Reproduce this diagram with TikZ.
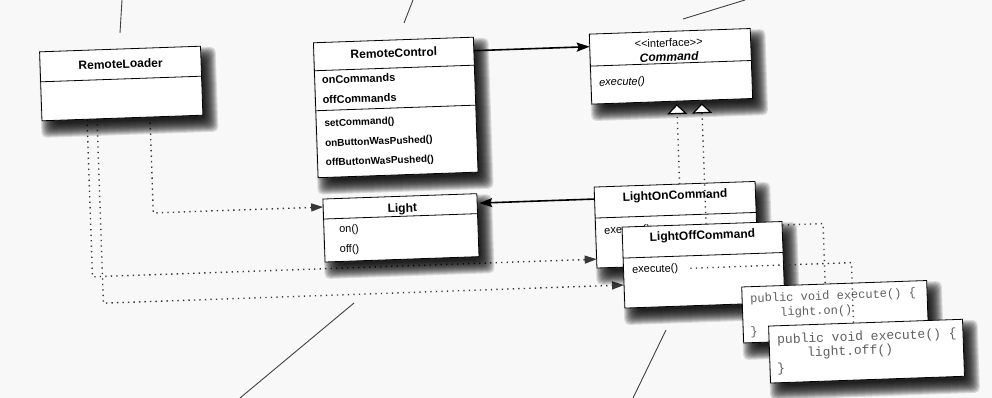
\documentclass[tikz,border=0pt]{standalone}
\usepackage{fontspec}
\setmainfont{Liberation Sans}
\newfontfamily\codefont{Liberation Mono}
\usetikzlibrary{arrows.meta,calc}

\pgfdeclarelayer{paper}
\pgfdeclarelayer{wires}
\pgfsetlayers{paper,wires,main}

\definecolor{paperbg}{RGB}{248,248,248}
\definecolor{dotgray}{RGB}{55,55,55}
\definecolor{codegray}{RGB}{95,95,95}

\tikzset{
  classbox/.style={draw=black, line width=0.8pt, fill=white, inner sep=0pt, outer sep=0pt,
    anchor=north west},
  shadowink/.style={fill=black, opacity=0.12, rounded corners=5pt},
  divider/.style={line width=0.8pt},
  titletext/.style={font=\fontsize{12}{14}\selectfont\bfseries, inner sep=0pt},
  attrtext/.style={font=\fontsize{11}{13}\selectfont\bfseries, inner sep=0pt, anchor=west},
  methtext/.style={font=\fontsize{10}{12}\selectfont\bfseries, inner sep=0pt, anchor=west},
  optext/.style={font=\fontsize{11}{13}\selectfont, inner sep=0pt, anchor=west},
  codetext/.style={font=\codefont\fontsize{12}{14}\selectfont, text=codegray,
    inner sep=0pt, anchor=west},
  bigcodetext/.style={font=\codefont\fontsize{13}{15}\selectfont, text=codegray,
    inner sep=0pt, anchor=west},
  assoc/.style={line width=1.6pt, -{Stealth[length=13pt,width=9pt,inset=2pt]}},
  dotline/.style={draw=dotgray, line width=1.4pt, dash pattern=on 1.3pt off 4.2pt},
  depend/.style={dotline, -{Triangle[length=12pt,width=8pt]}},
  realize/.style={dotline, shorten >=3pt,
    -{Triangle[length=10pt,width=20pt,line width=1.2pt,color=black,fill=white]}},
  leader/.style={draw=black!75, line width=0.9pt},
}

% box with a soft drop shadow: name, left, top, width, height
\newcommand\umlbox[5]{%
  \foreach \e in {8,7,...,-6}{%
    \fill[shadowink] ({#2+7-\e},{#3+9-\e}) rectangle ({#2+#4+7+\e},{#3+#5+9+\e});}
  \node[classbox, minimum width=#4pt, minimum height=#5pt] (#1) at (#2,#3) {};}

\begin{document}
\begin{tikzpicture}[x=1pt,y=-1pt]
\begin{pgfonlayer}{paper}
  \fill[paperbg] (0,0) rectangle (992,398);
\end{pgfonlayer}
\useasboundingbox (0,0) rectangle (992,398);

% pointer strokes
\coordinate (pa1) at (122,0);   \coordinate (pa2) at (120,33);
\coordinate (pb1) at (413,0);   \coordinate (pb2) at (404,23);
\coordinate (pc1) at (745,0);   \coordinate (pc2) at (683,19);
\coordinate (pd1) at (354,303); \coordinate (pd2) at (240,398);
\coordinate (pe1) at (666,330); \coordinate (pe2) at (633,398);
\draw[leader] (pa1) -- (pa2);
\draw[leader] (pb1) -- (pb2);
\draw[leader] (pc1) -- (pc2);
\draw[leader] (pd1) -- (pd2);
\draw[leader] (pe1) -- (pe2);

\begin{scope}[rotate around={2:(496,199)}, transform shape]

  % RemoteLoader
  \umlbox{loader}{45}{36}{161}{69}
  \draw[divider] (45,66) -- (206,66);
  \node[titletext] (loadername) at (125.5,51) {RemoteLoader};

  % RemoteControl
  \umlbox{rc}{319}{36.5}{160}{135}
  \draw[divider] (319,64.5) -- (479,64.5);
  \draw[divider] (319,104.5) -- (479,104.5);
  \node[titletext] (rcname) at (399,49.5) {RemoteControl};
  \node[attrtext] (rcon) at (326,74) {onCommands};
  \node[attrtext] (rcoff) at (326,94) {offCommands};
  \node[methtext] (rcset) at (327,118) {setCommand()};
  \node[methtext] (rconpush) at (327,138) {onButtonWasPushed()};
  \node[methtext] (rcoffpush) at (327,157.5) {offButtonWasPushed()};

  % Command interface
  \umlbox{cmd}{595}{37.5}{161}{70}
  \draw[divider] (595,69.5) -- (756,69.5);
  \node[font=\fontsize{11}{13}\selectfont, inner sep=0pt] (cmdstereo) at (674,49)
    {<\kern0pt<interface>\kern0pt>};
  \node[titletext, font=\fontsize{12}{14}\selectfont\bfseries\itshape] (cmdname) at (674,63) {Command};
  \node[optext, font=\fontsize{11}{13}\selectfont\itshape] (cmdexec) at (603,87) {execute()};

  % Light
  \umlbox{light}{323}{193}{154}{63}
  \draw[divider] (323,213) -- (477,213);
  \node[titletext] (lightname) at (402,206) {Light};
  \node[optext] (lighton) at (338,224.5) {on()};
  \node[optext] (lightoff) at (338,244.5) {off()};

  % LightOnCommand
  \umlbox{lon}{594.5}{190.5}{161}{81}
  \draw[divider] (594.5,221.5) -- (755.5,221.5);
  \node[titletext] (lonname) at (675,202.5) {LightOnCommand};
  \node[optext] (lonexec) at (603,235) {execute()};

  % call trace running behind LightOffCommand
  \coordinate (ce1) at (822,235);
  \coordinate (ce1end) at (822,295.5);
  \begin{pgfonlayer}{wires}
    \draw[dotline] (lonexec.east) -- (ce1) -- (ce1end);
  \end{pgfonlayer}

  % LightOffCommand
  \umlbox{loff}{621}{231.5}{160}{81}
  \draw[divider] (621,262.5) -- (781,262.5);
  \node[titletext] (loffname) at (701,243.5) {LightOffCommand};
  \node[optext] (loffexec) at (629.5,275) {execute()};

  % code notes
  \umlbox{code1}{738.5}{295.5}{185}{56}
  \node[codetext] (code1a) at (746.5,308) {public void execute() \{};
  \node[codetext] (code1b) at (776,323) {light.on()};
  \node[codetext] (code1c) at (745.5,341) {\}};

  \umlbox{code2}{764}{335.5}{194}{57}
  \node[bigcodetext] (code2a) at (772,350) {public void execute() \{};
  \node[bigcodetext] (code2b) at (801.5,364) {light.off()};
  \node[bigcodetext] (code2c) at (771,379) {\}};

  % dependencies from RemoteLoader
  \coordinate (ca) at (153,201);
  \coordinate (cb) at (90,262.7);
  \coordinate (cc) at (100,289.4);
  \begin{pgfonlayer}{wires}
    \draw[depend] ($(loader.south west)!0.671!(loader.south east)$) -- (ca)
      -- ($(light.north west)!0.127!(light.south west)$);
    \draw[depend] ($(loader.south west)!0.28!(loader.south east)$) -- (cb)
      -- ($(lon.north west)!0.891!(lon.south west)$);
    \draw[depend] ($(loader.south west)!0.342!(loader.south east)$) -- (cc)
      -- ($(loff.north west)!0.715!(loff.south west)$);
  \end{pgfonlayer}

  % realizations of Command
  \draw[realize] ($(lon.north west)!0.531!(lon.north east)$)
    -- ($(cmd.south west)!0.528!(cmd.south east)$);
  \draw[realize] ($(loff.north west)!0.525!(loff.north east)$)
    -- ($(cmd.south west)!0.683!(cmd.south east)$);

  % call trace from LightOffCommand
  \coordinate (ce2) at (849,275);
  \draw[dotline, shorten <=12pt] (loffexec.east) -- (ce2)
    -- ($(code2.north west)!0.438!(code2.north east)$);

  % associations
  \draw[assoc] ($(rc.north east)!0.1!(rc.south east)$)
    -- ($(cmd.north west)!0.179!(cmd.south west)$);
  \draw[assoc, shorten >=2pt] ($(lon.north west)!0.148!(lon.south west)$)
    -- ($(light.north east)!0.151!(light.south east)$);

\end{scope}
\end{tikzpicture}
\end{document}
